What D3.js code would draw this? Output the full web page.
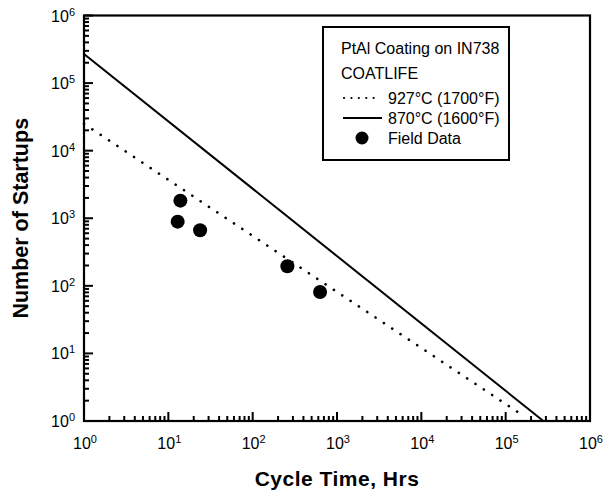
<!DOCTYPE html>
<html>
<head>
<meta charset="utf-8">
<script src="https://cdn.jsdelivr.net/npm/d3@7"></script>
<style>
  html, body { margin: 0; padding: 0; background: #fff; }
  svg { display: block; font-family: "Liberation Sans", Arial, Helvetica, sans-serif; }
</style>
</head>
<body>
<svg id="chart" width="605" height="493"></svg>
<script>
// ---- data ----
const decadeExponents = [0, 1, 2, 3, 4, 5, 6];
const line1700T = [1, 170000];      // 927°C (1700°F) dotted
const line1700N = [25000, 1.15];
const line1600T = [1, 280000];      // 870°C (1600°F) solid
const line1600N = [270000, 1];
const fieldT = [13.9, 12.9, 23.8, 258, 630];
const fieldN = [1820, 890, 665, 195, 81];
const legendTitle = ["PtAl Coating on IN738", "COATLIFE"];
const legendLabels = ["927°C (1700°F)", "870°C (1600°F)", "Field Data"];
const xTitle = "Cycle Time, Hrs";
const yTitle = "Number of Startups";

// ---- layout ----
const L = 84, R = 590, T = 15.5, B = 421;
const svg = d3.select("#chart");
const x = d3.scaleLog().domain([1, 1e6]).range([L, R]);
const y = d3.scaleLog().domain([1, 1e6]).range([B, T]);

const majors = decadeExponents.map(e => Math.pow(10, e));
const minors = [];
decadeExponents.slice(0, -1).forEach(e => { for (let k = 2; k <= 9; k++) minors.push(k * Math.pow(10, e)); });
const ticks = majors.map(v => ({ v, len: 9 })).concat(minors.map(v => ({ v, len: 5 })));

// frame
svg.append("rect").attr("x", L).attr("y", T).attr("width", R - L).attr("height", B - T)
  .attr("fill", "none").attr("stroke", "#000").attr("stroke-width", 2.2);

// x ticks (inward, bottom)
svg.append("g").attr("class", "xticks").selectAll("path").data(ticks).join("path")
  .attr("d", d => `M${x(d.v)},${B}V${B - d.len}`)
  .attr("stroke", "#000").attr("stroke-width", 2).attr("fill", "none");
// y ticks (inward, left)
svg.append("g").attr("class", "yticks").selectAll("path").data(ticks).join("path")
  .attr("d", d => `M${L},${y(d.v)}H${L + d.len}`)
  .attr("stroke", "#000").attr("stroke-width", 2).attr("fill", "none");

// tick labels
function powLabel(sel, e) {
  sel.append("tspan").text("10");
  sel.append("tspan").attr("font-size", 11).attr("dy", -6).text(String(e));
}
decadeExponents.forEach(e => {
  const t = svg.append("text").attr("x", x(Math.pow(10, e)) + 1).attr("y", B + 28)
    .attr("text-anchor", "middle").attr("font-size", 16).attr("fill", "#000");
  powLabel(t, e);
  const t2 = svg.append("text").attr("x", L - 9).attr("y", y(Math.pow(10, e)) + 6)
    .attr("text-anchor", "end").attr("font-size", 16).attr("fill", "#000");
  powLabel(t2, e);
});

// axis titles
svg.append("text").attr("x", (L + R) / 2).attr("y", 486).attr("text-anchor", "middle")
  .attr("font-size", 21).attr("font-weight", "bold").attr("letter-spacing", 0.5).text(xTitle);
svg.append("text").attr("transform", `translate(28,${(T + B) / 2}) rotate(-90)`)
  .attr("text-anchor", "middle").attr("font-size", 21.5).attr("font-weight", "bold").text(yTitle);

// lines
const lineGen = d3.line().x(d => x(d[0])).y(d => y(d[1]));
svg.append("path").datum(line1600T.map((t, i) => [t, line1600N[i]]))
  .attr("d", lineGen).attr("fill", "none").attr("stroke", "#000").attr("stroke-width", 2);
svg.append("path").datum(line1700T.map((t, i) => [t, line1700N[i]]))
  .attr("d", lineGen).attr("fill", "none").attr("stroke", "#000").attr("stroke-width", 2.6)
  .attr("stroke-linecap", "round").attr("stroke-dasharray", "0.1,9.9");

// field data
svg.append("g").selectAll("circle").data(fieldT.map((t, i) => [t, fieldN[i]])).join("circle")
  .attr("cx", d => x(d[0])).attr("cy", d => y(d[1])).attr("r", 7).attr("fill", "#000");

// legend
const lg = svg.append("g");
lg.append("rect").attr("x", 323).attr("y", 27).attr("width", 186).attr("height", 133)
  .attr("fill", "#fff").attr("stroke", "#000").attr("stroke-width", 2);
legendTitle.forEach((s, i) => {
  lg.append("text").attr("x", 341).attr("y", 54 + i * 25).attr("font-size", 16).text(s);
});
const rowY = [98, 118, 138];
lg.append("line").attr("x1", 344).attr("x2", 381).attr("y1", rowY[0]).attr("y2", rowY[0])
  .attr("stroke", "#000").attr("stroke-width", 2.2).attr("stroke-linecap", "round").attr("stroke-dasharray", "0.1,7.3");
lg.append("line").attr("x1", 343).attr("x2", 382).attr("y1", rowY[1]).attr("y2", rowY[1])
  .attr("stroke", "#000").attr("stroke-width", 2.2);
lg.append("circle").attr("cx", 362).attr("cy", rowY[2]).attr("r", 6.5).attr("fill", "#000");
legendLabels.forEach((s, i) => {
  lg.append("text").attr("x", 388).attr("y", rowY[i] + 6).attr("font-size", 16).text(s);
});
</script>
</body>
</html>
